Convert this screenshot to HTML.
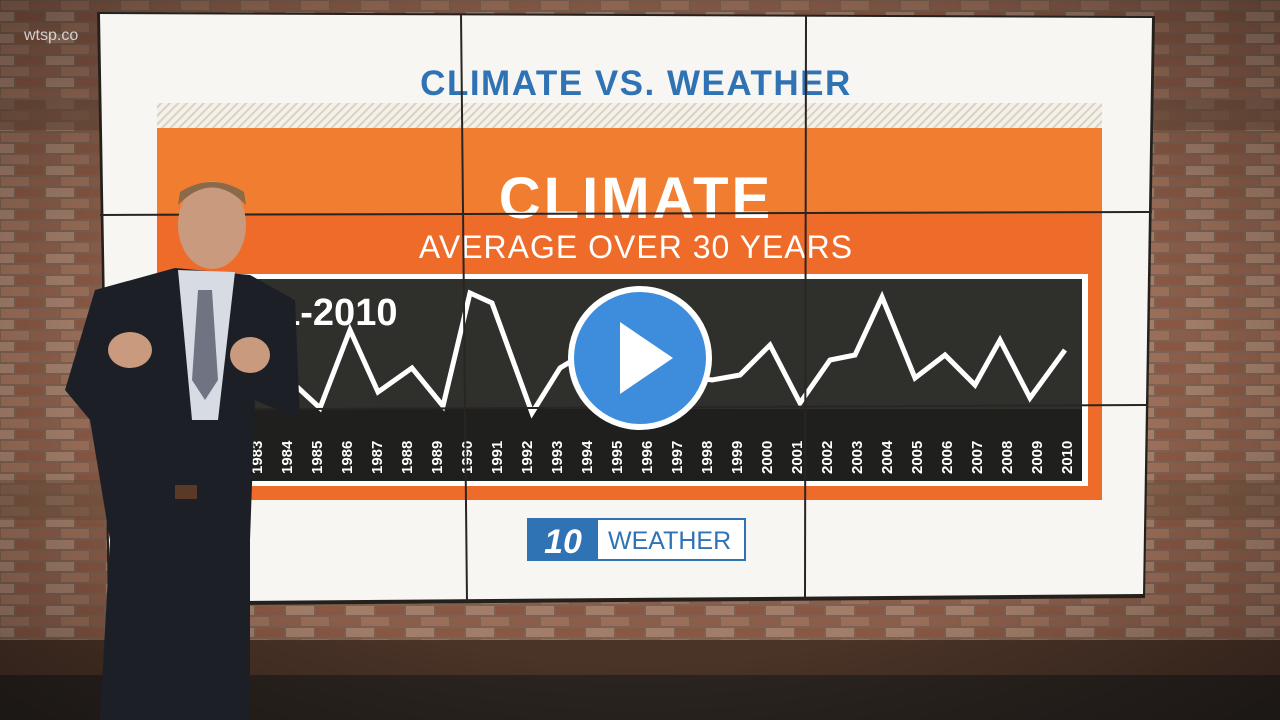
<!DOCTYPE html>
<html><head><meta charset="utf-8"><style>
html,body{margin:0;padding:0;width:1280px;height:720px;overflow:hidden;background:#5a4334}
svg{display:block}
</style></head><body>
<svg width="1280" height="720" viewBox="0 0 1280 720" xmlns="http://www.w3.org/2000/svg">
<defs>
<pattern id="brick" width="60" height="22" patternUnits="userSpaceOnUse">
<rect width="60" height="22" fill="#7d6152"/>
<rect x="1" y="1" width="28" height="9" fill="#9a6e58"/>
<rect x="31" y="1" width="28" height="9" fill="#8c5e4a"/>
<rect x="-14" y="12" width="28" height="9" fill="#a27e6a"/>
<rect x="16" y="12" width="28" height="9" fill="#885844"/>
<rect x="46" y="12" width="28" height="9" fill="#a27e6a"/>
</pattern>
<pattern id="hatch" width="6" height="6" patternUnits="userSpaceOnUse" patternTransform="rotate(45)">
<rect width="6" height="6" fill="#f4f1ea"/><rect width="2" height="6" fill="#d9d2c2"/>
</pattern>
<radialGradient id="vig" cx="50%" cy="50%" r="70%">
<stop offset="60%" stop-color="#000" stop-opacity="0"/><stop offset="100%" stop-color="#000" stop-opacity="0.35"/>
</radialGradient>
</defs>
<rect width="1280" height="720" fill="url(#brick)"/>
<rect x="0" y="100" width="1280" height="30" fill="#6e4f3c" opacity="0.6"/>
<rect x="0" y="480" width="1280" height="40" fill="#6e4f3c" opacity="0.5"/>
<rect x="0" y="640" width="1280" height="80" fill="#4a3327"/>
<rect x="0" y="675" width="1280" height="45" fill="#2b2420"/>
<rect width="1280" height="720" fill="url(#vig)"/>
<text x="24" y="40" font-family="Liberation Sans,sans-serif" font-size="16" fill="#e8e8e8" opacity="0.85">wtsp.co</text>
<polygon points="97,12 1155,16 1145,598 108,606" fill="#26201c"/>
<polygon points="100,14 1152,18 1143,594 110,602" fill="#f7f6f3"/>
<text x="636" y="95" text-anchor="middle" font-family="Liberation Sans,sans-serif" font-weight="bold" font-size="35" letter-spacing="1.5" fill="#2f73b5">CLIMATE VS. WEATHER</text>
<rect x="157" y="103" width="945" height="25" fill="url(#hatch)"/>
<rect x="157" y="128" width="945" height="372" fill="#ee6b2a"/>
<rect x="157" y="128" width="945" height="85" fill="#f07d30"/>
<text x="636" y="218" text-anchor="middle" font-family="Liberation Sans,sans-serif" font-weight="bold" font-size="58" letter-spacing="3" fill="#fff">CLIMATE</text>
<text x="636" y="258" text-anchor="middle" font-family="Liberation Sans,sans-serif" font-size="32" letter-spacing="1" fill="#fff">AVERAGE OVER 30 YEARS</text>
<rect x="240" y="274" width="848" height="212" fill="#fff"/>
<rect x="246" y="279" width="836" height="130" fill="#2f2f2c"/>
<rect x="246" y="409" width="836" height="72" fill="#1f1f1d"/>
<text x="258" y="325" font-family="Liberation Sans,sans-serif" font-weight="bold" font-size="38" fill="#fff">81-2010</text>
<polyline fill="none" stroke="#fff" stroke-width="5" stroke-linejoin="miter" points="246,360 295,385 320,408 350,330 378,392 412,368 443,406 470,293 492,303 532,413 560,368 590,350 620,370 650,360 680,375 712,380 740,375 770,345 800,403 830,360 855,355 882,297 915,378 945,355 975,385 1000,340 1030,398 1065,350"/>
<g font-family="Liberation Sans,sans-serif" font-weight="bold" font-size="15" fill="#fff">
<text transform="translate(262,474) rotate(-90)">1983</text>
<text transform="translate(292,474) rotate(-90)">1984</text>
<text transform="translate(322,474) rotate(-90)">1985</text>
<text transform="translate(352,474) rotate(-90)">1986</text>
<text transform="translate(382,474) rotate(-90)">1987</text>
<text transform="translate(412,474) rotate(-90)">1988</text>
<text transform="translate(442,474) rotate(-90)">1989</text>
<text transform="translate(472,474) rotate(-90)">1990</text>
<text transform="translate(502,474) rotate(-90)">1991</text>
<text transform="translate(532,474) rotate(-90)">1992</text>
<text transform="translate(562,474) rotate(-90)">1993</text>
<text transform="translate(592,474) rotate(-90)">1994</text>
<text transform="translate(622,474) rotate(-90)">1995</text>
<text transform="translate(652,474) rotate(-90)">1996</text>
<text transform="translate(682,474) rotate(-90)">1997</text>
<text transform="translate(712,474) rotate(-90)">1998</text>
<text transform="translate(742,474) rotate(-90)">1999</text>
<text transform="translate(772,474) rotate(-90)">2000</text>
<text transform="translate(802,474) rotate(-90)">2001</text>
<text transform="translate(832,474) rotate(-90)">2002</text>
<text transform="translate(862,474) rotate(-90)">2003</text>
<text transform="translate(892,474) rotate(-90)">2004</text>
<text transform="translate(922,474) rotate(-90)">2005</text>
<text transform="translate(952,474) rotate(-90)">2006</text>
<text transform="translate(982,474) rotate(-90)">2007</text>
<text transform="translate(1012,474) rotate(-90)">2008</text>
<text transform="translate(1042,474) rotate(-90)">2009</text>
<text transform="translate(1072,474) rotate(-90)">2010</text>
</g>
<g stroke="#2a2522" stroke-width="2">
<line x1="461" y1="14" x2="467" y2="602"/><line x1="806" y1="16" x2="805" y2="598"/>
<line x1="100" y1="215" x2="1152" y2="212"/><line x1="105" y1="410" x2="1148" y2="405"/>
</g>
<rect x="528" y="519" width="217" height="41" fill="#fff" stroke="#2f73b5" stroke-width="2"/>
<rect x="528" y="519" width="70" height="41" fill="#2f73b5"/>
<text x="563" y="553" text-anchor="middle" font-family="Liberation Sans,sans-serif" font-weight="bold" font-style="italic" font-size="34" fill="#fff">10</text>
<text x="608" y="549" font-family="Liberation Sans,sans-serif" font-size="25" fill="#2f73b5">WEATHER</text>
<ellipse cx="212" cy="225" rx="34" ry="44" fill="#c99a7e"/>
<path d="M178 205 Q212 170 246 205 L244 192 Q212 172 180 192Z" fill="#8a6a48"/>
<path d="M95 290 L175 268 L250 275 L295 300 L300 420 L255 400 L250 540 L250 720 L100 720 L110 540 L90 420 L65 390Z" fill="#1d1f26"/>
<polygon points="178,270 235,272 218,420 192,420" fill="#d6dbe4"/>
<polygon points="198,290 212,290 218,380 205,400 192,380" fill="#6f7482"/>
<ellipse cx="130" cy="350" rx="22" ry="18" fill="#c99a7e"/>
<ellipse cx="250" cy="355" rx="20" ry="18" fill="#c99a7e"/>
<rect x="175" y="485" width="22" height="14" fill="#5a3a26"/>
<circle cx="640" cy="358" r="72" fill="#fff"/>
<circle cx="640" cy="358" r="66" fill="#3e8ddd"/>
<polygon points="620,322 620,394 673,358" fill="#fff"/>
</svg>
</body></html>
